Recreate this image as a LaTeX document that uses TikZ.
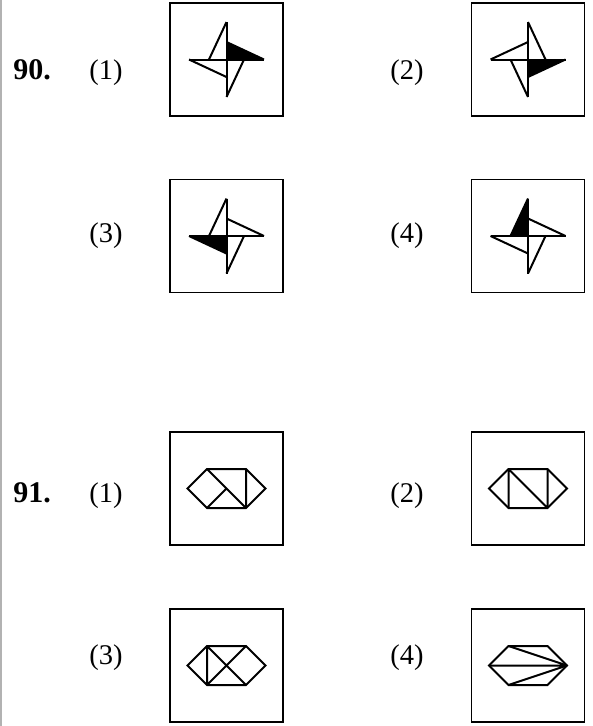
\documentclass[tikz,border=0pt]{standalone}
\usepackage{fontspec}
\setmainfont{Liberation Serif}
\usetikzlibrary{positioning}

\newcommand{\armL}{37.5}
\newcommand{\armS}{17.5}
% pinwheel: #1 box name, #2 xscale (1 or -1), #3 rotation of the black arm
\newcommand{\pinwheel}[3]{%
  \begin{scope}[shift={(#1.center)}, xscale=#2]
    \fill[rotate=#3] (\armL,0) -- (0,-\armS) -- (0,0) -- cycle;
    \foreach \a in {0,90,180,270}
      \draw[fig, rotate=\a] (\armL,0) -- (0,-\armS);
    \draw[fig] (-\armL,0) -- (\armL,0) (0,-\armL) -- (0,\armL);
  \end{scope}}
% hexagon: #1 box name, #2 inner lines
\newcommand{\hexfig}[2]{%
  \begin{scope}[shift={(#1.center)}]
    \coordinate (p1) at (-39,0);
    \coordinate (p2) at (-19.5,-19.5);
    \coordinate (p3) at (19.5,-19.5);
    \coordinate (p4) at (39,0);
    \coordinate (p5) at (19.5,19.5);
    \coordinate (p6) at (-19.5,19.5);
    \coordinate (pc) at (0,0);
    \draw[fig] (p1) -- (p2) -- (p3) -- (p4) -- (p5) -- (p6) -- cycle;
    \draw[fig] #2;
  \end{scope}}

\begin{document}
\begin{tikzpicture}[
  x=1pt, y=-1pt,
  optbox/.style={rectangle, draw, line width=1.9pt, minimum size=113pt,
                 inner sep=0pt},
  fig/.style={line width=2pt},
  num/.style={anchor=base, font=\fontsize{30}{34}\selectfont\bfseries},
  opt/.style={anchor=base, font=\fontsize{28.5}{32}\selectfont}
]
  \useasboundingbox (0,0) rectangle (593,726);
  \draw[gray!60, line width=2pt] (1,0) -- (1,726);

  % question 90
  \node[num] (n90) at (32,79) {90.};
  \node[opt] (o90a) at (106,79) {(1)};
  \node[opt] (o90b) at (407,79) {(2)};
  \node[opt] (o90c) at (106,242) {(3)};
  \node[opt] (o90d) at (407,242) {(4)};
  \node[optbox] (b90a) at (226.5,59.5) {};
  \node[optbox] (b90b) at (528,59.5) {};
  \node[optbox] (b90c) at (226.5,236) {};
  \node[optbox] (b90d) at (528,236) {};
  \pinwheel{b90a}{1}{0}
  \pinwheel{b90b}{-1}{180}
  \pinwheel{b90c}{1}{180}
  \pinwheel{b90d}{1}{90}

  % question 91
  \node[num] (n91) at (32,502) {91.};
  \node[opt] (o91a) at (106,502) {(1)};
  \node[opt] (o91b) at (407,502) {(2)};
  \node[opt] (o91c) at (106,664) {(3)};
  \node[opt] (o91d) at (407,664) {(4)};
  \node[optbox] (b91a) at (226.5,488.5) {};
  \node[optbox] (b91b) at (528,488.5) {};
  \node[optbox] (b91c) at (226.5,665.5) {};
  \node[optbox] (b91d) at (528,665.5) {};
  \hexfig{b91a}{(p3) -- (p5) (p2) -- (p5) (p6) -- (pc)}
  \hexfig{b91b}{(p2) -- (p6) (p3) -- (p5) (p2) -- (p5)}
  \hexfig{b91c}{(p2) -- (p6) (p2) -- (p5) (p6) -- (p3)}
  \hexfig{b91d}{(p1) -- (p4) (p2) -- (p4) (p6) -- (p4)}
\end{tikzpicture}
\end{document}
